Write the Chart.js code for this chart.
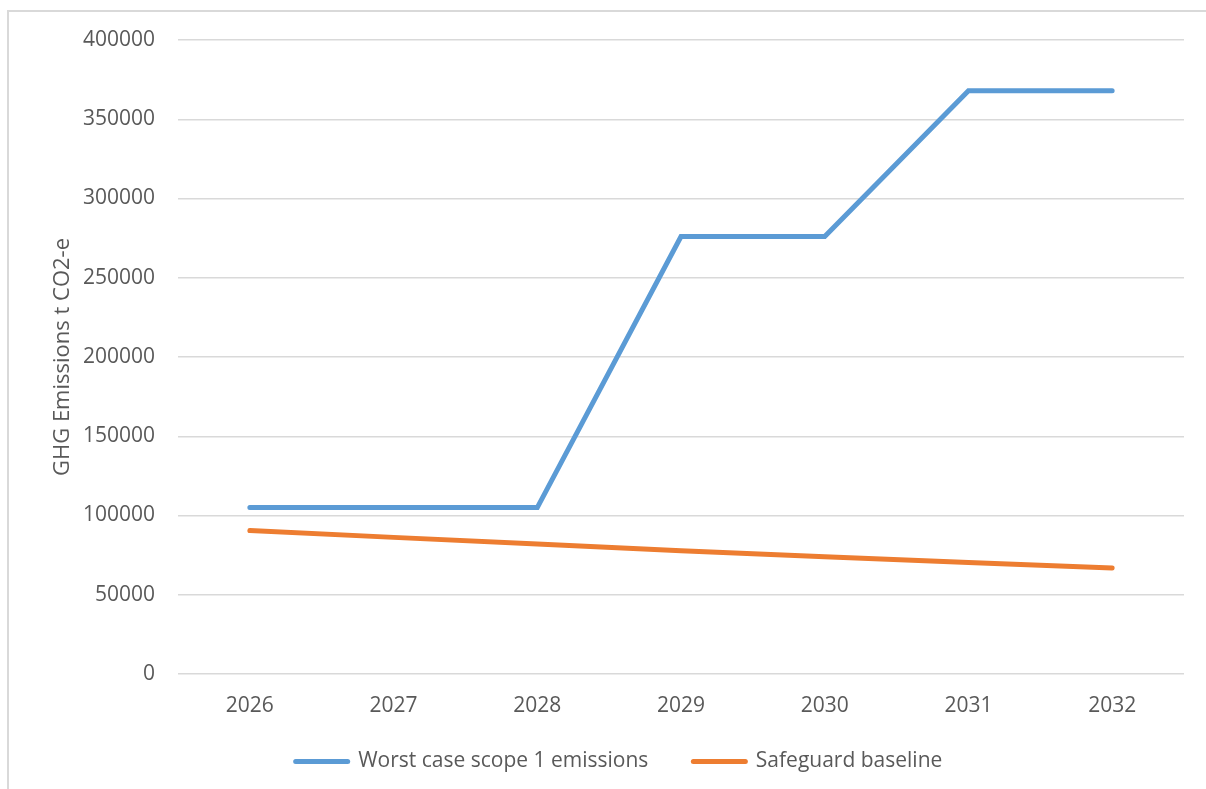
<!DOCTYPE html>
<html>
<head>
<meta charset="utf-8">
<title>GHG Emissions</title>
<script src="https://cdn.jsdelivr.net/npm/chart.js@4/dist/chart.umd.min.js"></script>
<style>
  html, body { margin: 0; padding: 0; background: #ffffff; }
  #wrap { position: relative; width: 1206px; height: 789px; }
  #frame {
    position: absolute; left: 7px; top: 10px; right: 0; bottom: 0;
    border-left: 2px solid #D9D9D9; border-top: 2px solid #D9D9D9;
    pointer-events: none;
  }
  canvas { position: absolute; left: 0; top: 0; }
</style>
</head>
<body>
<div id="wrap">
  <canvas id="chart" width="1206" height="789"></canvas>
  <div id="frame"></div>
</div>
<script>
// Years on the horizontal axis
const years = ['2026', '2027', '2028', '2029', '2030', '2031', '2032'];

// Annual emissions, t CO2-e
const worstCaseScope1 = [105000, 105000, 105000, 276000, 276000, 368000, 368000];
const safeguardBaseline = [90500, 86200, 82000, 77800, 73900, 70300, 66800];

// Vertical axis range and spacing
const yMin = 0;
const yMax = 400000;
const yStep = 50000;

const seriesNames = ['Worst case scope 1 emissions', 'Safeguard baseline'];
const seriesColors = ['#5B9BD5', '#ED7D31'];

const textColor = '#595959';
const gridColor = '#D9D9D9';
const fontFamily = "'Open Sans', 'Liberation Sans', sans-serif";

function lineDataset(label, data, color) {
  return {
    label: label,
    data: data,
    borderColor: color,
    backgroundColor: color,
    borderWidth: 5,
    borderCapStyle: 'round',
    borderJoinStyle: 'miter',
    tension: 0,
    pointRadius: 0,
    pointHoverRadius: 0,
    pointBorderWidth: 5,
    pointBorderColor: color,
    fill: false
  };
}

// The legend keeps wide gaps between its entries; lift it a little closer
// to the axis labels and nudge it towards the middle of the page.
const legendNudge = {
  id: 'legendNudge',
  afterLayout(chart) {
    const lg = chart.legend;
    if (!lg) return;
    lg.top -= 16; lg.bottom -= 16;
    lg.left += 27; lg.right += 27;
  }
};

new Chart(document.getElementById('chart'), {
  type: 'line',
  data: {
    labels: years,
    datasets: [
      lineDataset(seriesNames[0], worstCaseScope1, seriesColors[0]),
      lineDataset(seriesNames[1], safeguardBaseline, seriesColors[1])
    ]
  },
  plugins: [legendNudge],
  options: {
    responsive: false,
    animation: false,
    events: [],
    layout: { padding: { top: 40, right: 22, bottom: -9, left: 0 } },
    plugins: {
      tooltip: { enabled: false },
      legend: {
        position: 'bottom',
        align: 'center',
        labels: {
          usePointStyle: true,
          pointStyle: 'line',
          pointStyleWidth: 52,
          padding: 45,
          color: textColor,
          font: { family: fontFamily, size: 21 },
          generateLabels(chart) {
            const items = Chart.defaults.plugins.legend.labels.generateLabels(chart);
            items.forEach((it, i) => {
              it.lineWidth = 5;
              it.lineCap = 'round';
              it.strokeStyle = seriesColors[i];
              it.fillStyle = seriesColors[i];
            });
            return items;
          }
        }
      }
    },
    scales: {
      x: {
        type: 'category',
        offset: true,
        grid: { display: false, drawTicks: false },
        border: { display: false },
        ticks: {
          color: textColor,
          font: { family: fontFamily, size: 21 },
          padding: 19,
          maxRotation: 0
        },
        afterFit(scale) { scale.height = 48; }
      },
      y: {
        min: yMin,
        max: yMax,
        grid: { color: gridColor, lineWidth: 1.5, drawTicks: false },
        border: { display: false },
        ticks: {
          stepSize: yStep,
          color: textColor,
          font: { family: fontFamily, size: 21 },
          padding: 23,
          callback: (v) => String(v)
        },
        title: {
          display: true,
          text: 'GHG Emissions t CO2-e',
          color: textColor,
          font: { family: fontFamily, size: 22 },
          padding: { top: 50, bottom: 0 }
        },
        afterFit(scale) { scale.width = 178; }
      }
    }
  }
});
</script>
</body>
</html>
